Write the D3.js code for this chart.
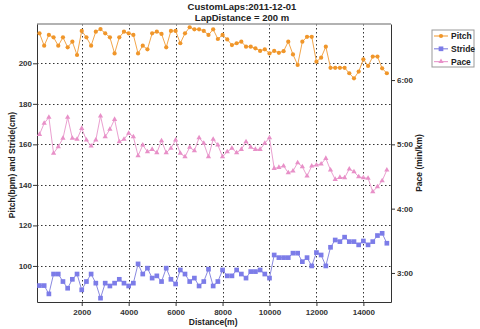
<!DOCTYPE html>
<html>
<head>
<meta charset="utf-8">
<script src="https://cdn.jsdelivr.net/npm/d3@7"></script>
<style>
  body { margin: 0; background: #fff; }
  svg { display: block; font-family: "Liberation Sans", Arial, sans-serif; }
  .axis text { font-size: 8px; font-weight: bold; fill: #333; }
  .axis path, .axis line { stroke: #333; }
  .grid line { stroke: #333; stroke-dasharray: 1.5,2.5; }
  .title { font-size: 9.5px; font-weight: bold; fill: #222; }
  .label { font-size: 8.5px; font-weight: bold; fill: #222; }
</style>
</head>
<body>
<div id="chart"></div>
<script>
const lapDistance = 200;
const distances = d3.range(1, 76).map((i) => i * lapDistance);

const pitch = [
  214.8, 208.7, 214, 212.8, 208.7, 212.8, 207.9, 210.7, 204.1, 216,
  212.8, 208.7, 215.6, 216.9, 214.8, 212.8, 204.9, 212.8, 215.6, 214.8,
  214, 204.9, 208.7, 206.9, 214.8, 215.6, 214.5, 207.9, 216, 216,
  209.9, 214.8, 217.8, 216.8, 216.8, 216, 214, 216.8, 212, 214,
  211.8, 209, 209.9, 210.7, 208.2, 208.2, 207.4, 206.1, 206.9, 204.9,
  206.1, 205.2, 206, 210.7, 204.4, 199.2, 210.7, 213.1, 213.1, 200.8,
  202.8, 208.2, 197.8, 197.8, 197.8, 197.8, 195.1, 192.6, 195.9, 202,
  198.7, 203.3, 203.3, 197.5, 195.1
];
const stride = [
  90.3, 90.3, 86.2, 96, 96, 92.3, 89, 93.4, 96, 88.2,
  92.3, 96, 91.5, 84.1, 91.5, 90.1, 91.5, 93.4, 91.5, 90.1,
  91.5, 101, 96, 98.9, 94, 95.1, 92.3, 98.9, 93.4, 91.1,
  98, 96, 92.3, 94, 90.1, 92.3, 98.4, 90.1, 92.3, 98,
  95.1, 95.1, 98, 96, 94, 97.2, 97.2, 98, 96, 94,
  105.4, 104.1, 104.1, 104.1, 106.3, 106.3, 102.1, 104.1, 100, 106.6,
  105.4, 100, 109.2, 112.8, 112, 114.2, 112, 112, 110.4, 112.3,
  110.4, 112, 115, 116.1, 111.2
];
// pace in seconds per km
const pace = [
  309.3, 319.6, 325.2, 291.6, 297.8, 305.6, 325.2, 305.6, 304.7, 314.9,
  304, 298.4, 304, 326.4, 307.1, 314, 323.3, 302.4, 304.7, 310.3,
  307.1, 289.4, 299.3, 293.1, 295.3, 292.2, 303.4, 292.2, 296.3, 304,
  291.6, 288.4, 297.2, 294, 306.2, 301, 288.4, 304.7, 299.3, 288.4,
  293.1, 296.3, 292.2, 295.3, 302.4, 297.2, 295.3, 295.3, 301, 306.2,
  277.6, 278.5, 279.8, 273.5, 275.1, 282.8, 279.1, 270.4, 279.8, 280.7,
  281.6, 286.9, 276, 267.3, 269.2, 268.8, 277, 274.4, 269.8, 268.8,
  268.3, 255.8, 260.4, 266, 276
];

const xTicks = [2000, 4000, 6000, 8000, 10000, 12000, 14000];
const leftTicks = [100, 120, 140, 160, 180, 200];
const paceTicks = [180, 240, 300, 360];

const series = [
  { name: "Pitch", values: pitch, axis: "left", color: "#f0962a", line: "#f3a64a", symbol: d3.symbolCircle, size: 14 },
  { name: "Stride", values: stride, axis: "left", color: "#7c7ce8", line: "#8a8ae0", symbol: d3.symbolSquare, size: 22 },
  { name: "Pace", values: pace, axis: "right", color: "#e890c8", line: "#eaa0d0", symbol: d3.symbolTriangle, size: 12 },
];

const width = 480, height = 329;
const margin = { top: 24, right: 89, bottom: 27, left: 37 };

const svg = d3.select("#chart").append("svg").attr("width", width).attr("height", height);

const x = d3.scaleLinear().domain([94, 15177]).range([margin.left, width - margin.right]);
const yLeft = d3.scaleLinear().domain([82.2, 219.4]).range([height - margin.bottom, margin.top]);
const yRight = d3.scaleLinear().domain([152.9, 412.3]).range([height - margin.bottom, margin.top]);

const fmtPace = (s) => `${Math.floor(s / 60)}:${String(Math.round(s % 60)).padStart(2, "0")}`;

// grid
const grid = svg.append("g").attr("class", "grid");
grid.selectAll("line.h").data(leftTicks).join("line").attr("class", "h")
  .attr("x1", margin.left).attr("x2", width - margin.right)
  .attr("y1", (d) => Math.round(yLeft(d)) + 0.5).attr("y2", (d) => Math.round(yLeft(d)) + 0.5);
grid.selectAll("line.v").data(xTicks).join("line").attr("class", "v")
  .attr("x1", (d) => Math.round(x(d)) + 0.5).attr("x2", (d) => Math.round(x(d)) + 0.5)
  .attr("y1", margin.top).attr("y2", height - margin.bottom);

// frame top
svg.append("line")
  .attr("x1", margin.left).attr("x2", width - margin.right)
  .attr("y1", margin.top).attr("y2", margin.top)
  .attr("stroke", "#999").attr("stroke-width", 1.5);

svg.append("g").attr("class", "axis")
  .attr("transform", `translate(0,${height - margin.bottom})`)
  .call(d3.axisBottom(x).tickValues(xTicks).tickFormat(d3.format("d")).tickSize(4).tickPadding(3).tickSizeOuter(0));
svg.append("g").attr("class", "axis")
  .attr("transform", `translate(${margin.left},0)`)
  .call(d3.axisLeft(yLeft).tickValues(leftTicks).tickSize(4).tickPadding(1).tickSizeOuter(0));
svg.append("g").attr("class", "axis")
  .attr("transform", `translate(${width - margin.right},0)`)
  .call(d3.axisRight(yRight).tickValues(paceTicks).tickFormat(fmtPace).tickSize(4).tickPadding(2).tickSizeOuter(0));

// series
series.forEach((s) => {
  const y = s.axis === "left" ? yLeft : yRight;
  const pts = distances.map((d, i) => [x(d), y(s.values[i])]);
  svg.append("path")
    .attr("d", d3.line()(pts))
    .attr("fill", "none").attr("stroke", s.line).attr("stroke-width", 1);
  svg.append("g").selectAll("path").data(pts).join("path")
    .attr("transform", (p) => `translate(${p[0]},${p[1]})`)
    .attr("d", d3.symbol(s.symbol, s.size)())
    .attr("fill", s.color);
});

// titles
svg.append("text").attr("class", "title").attr("x", 242).attr("y", 10)
  .attr("text-anchor", "middle").text("CustomLaps:2011-12-01");
svg.append("text").attr("class", "title").attr("x", 242).attr("y", 20.5)
  .attr("text-anchor", "middle").text("LapDistance = 200 m");
svg.append("text").attr("class", "label").attr("x", x(7600)).attr("y", 325)
  .attr("text-anchor", "middle").text("Distance(m)");
svg.append("text").attr("class", "label")
  .attr("transform", `translate(15,165) rotate(-90)`)
  .attr("text-anchor", "middle").text("Pitch(bpm) and Stride(cm)");
svg.append("text").attr("class", "label")
  .attr("transform", `translate(422,163) rotate(-90)`)
  .attr("text-anchor", "middle").text("Pace (min/km)");

// legend
const legend = svg.append("g").attr("transform", "translate(432,30)");
legend.append("rect").attr("width", 42).attr("height", 37)
  .attr("fill", "#fff").attr("stroke", "#999");
series.forEach((s, i) => {
  const g = legend.append("g").attr("transform", `translate(0,${6 + i * 12.8})`);
  g.append("line").attr("x1", 2).attr("x2", 16).attr("stroke", s.line).attr("stroke-width", 1.2);
  g.append("path").attr("transform", "translate(9,0)").attr("d", d3.symbol(s.symbol, s.size)()).attr("fill", s.color);
  g.append("text").attr("class", "label").attr("x", 19).attr("dy", "0.35em").text(s.name);
});
</script>
</body>
</html>
